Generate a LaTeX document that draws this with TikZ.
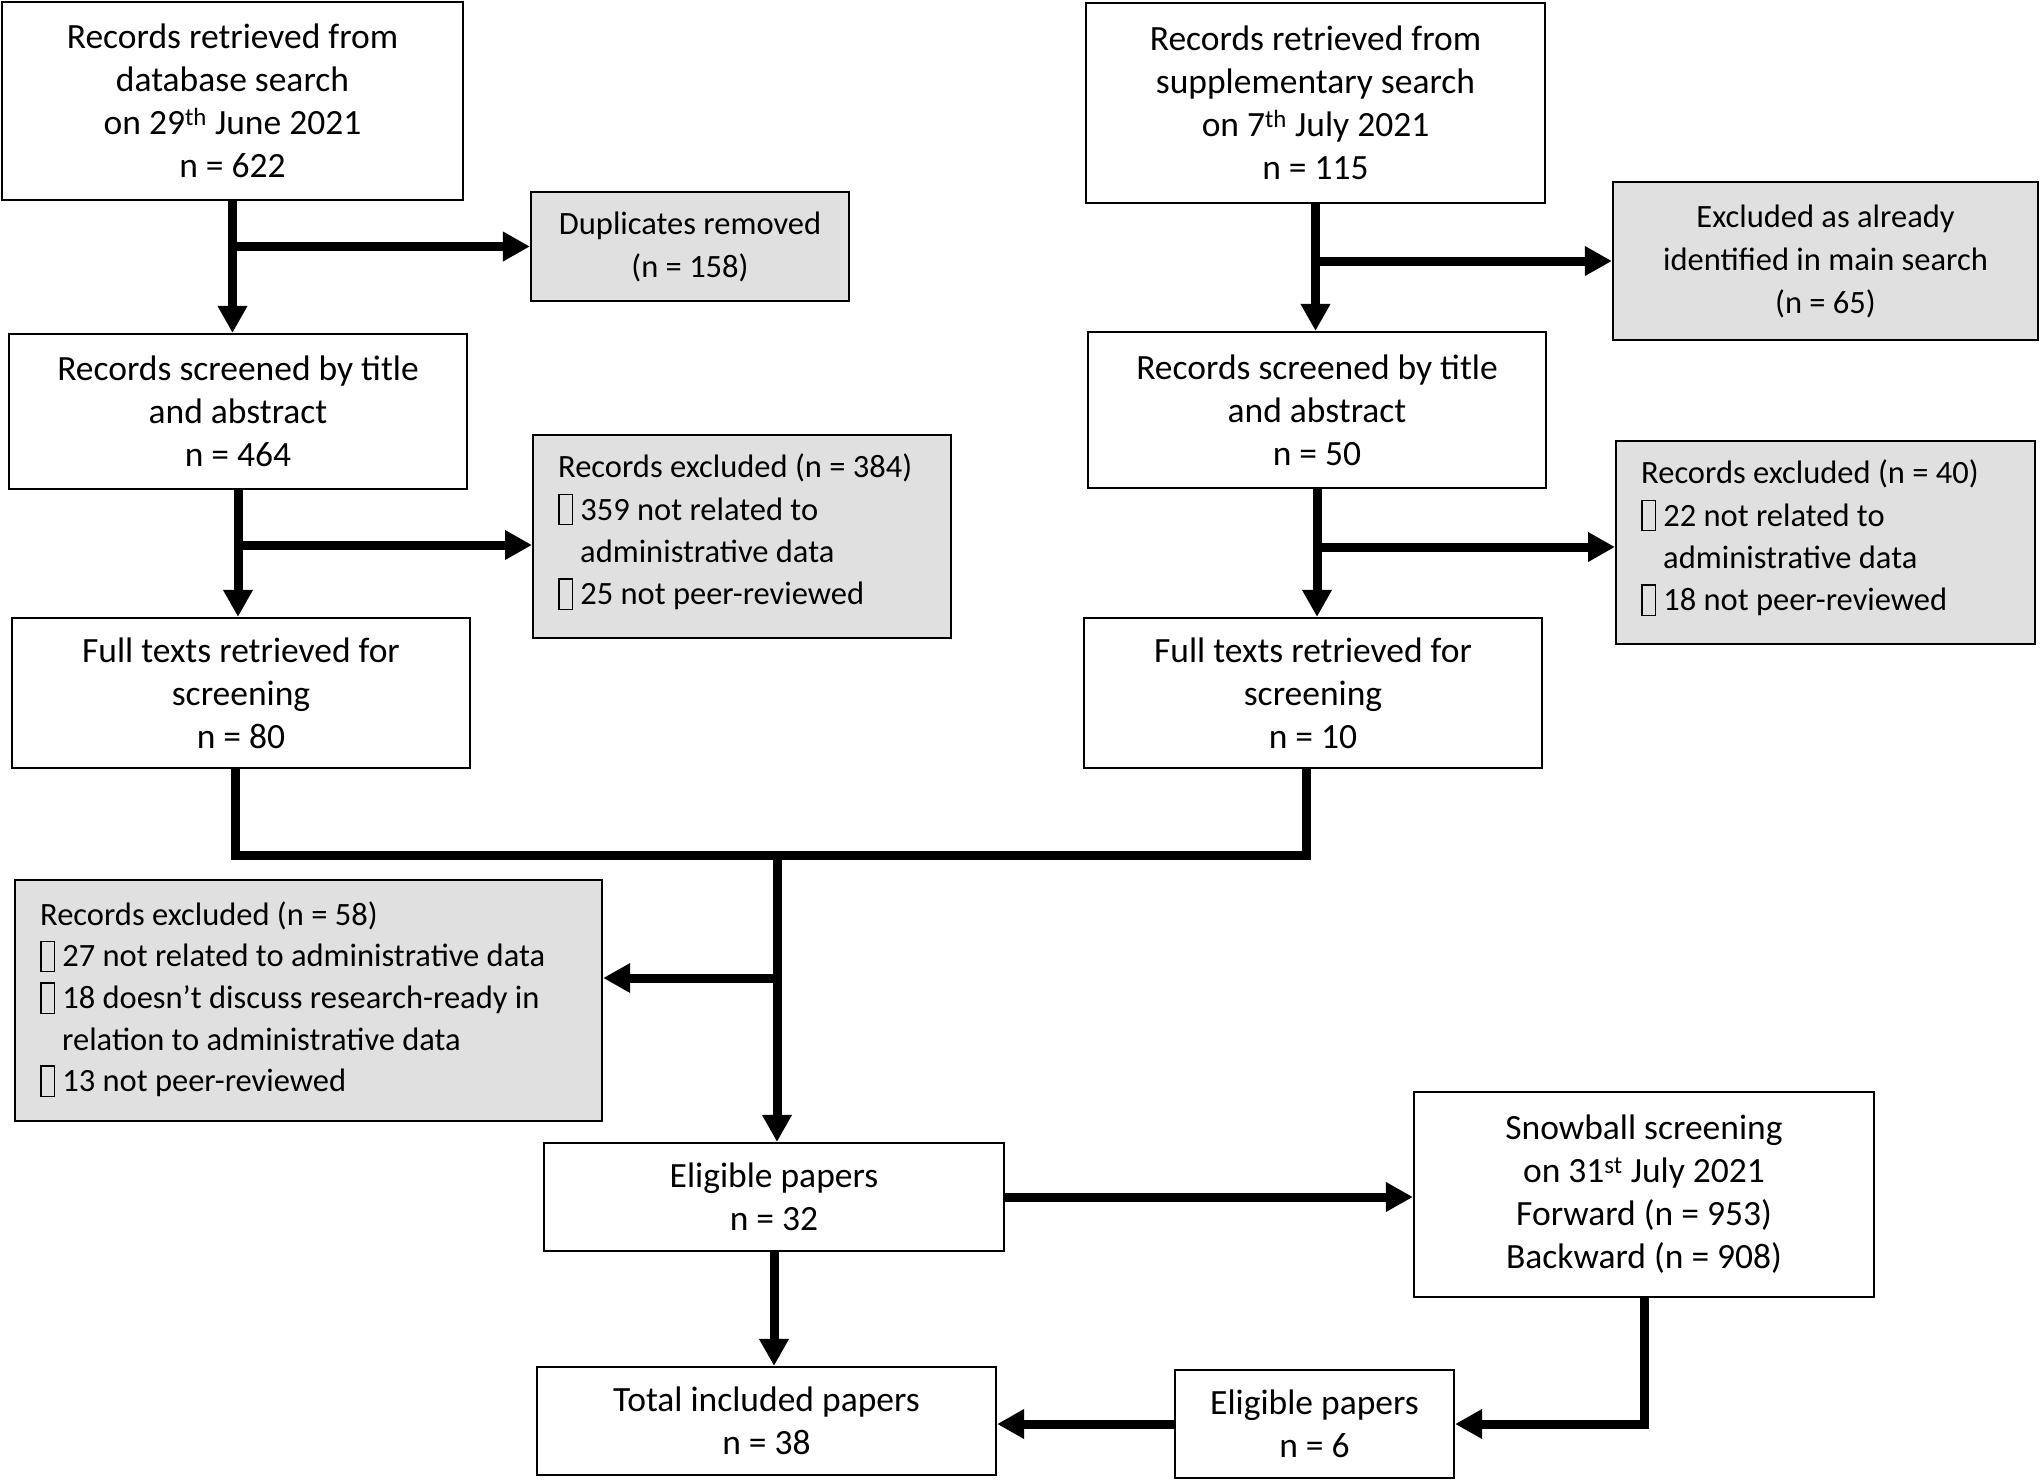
\documentclass[tikz,border=0pt]{standalone}
\usepackage{fontspec}
\setmainfont{Carlito}
\usetikzlibrary{arrows.meta}
\definecolor{exclgray}{RGB}{224,224,224}
\newcommand\gbox{\raisebox{-4pt}{\fboxsep=0pt\fboxrule=1.3pt\fbox{\rule{0pt}{29pt}\hspace{12.5pt}}}\hspace{7pt}}
\tikzset{
  flowbox/.style={draw=black, line width=2.2pt, fill=white, align=center, inner sep=0pt,
    font=\fontsize{35.5}{43}\selectfont},
  grayflow/.style={flowbox, fill=exclgray, font=\fontsize{32.5}{43}\selectfont},
  graybox/.style={draw=black, line width=2.2pt, fill=exclgray, inner sep=0pt, anchor=north west},
  listtext/.style={anchor=north west, inner sep=0pt, align=left,
    font=\fontsize{32.5}{42.3}\selectfont},
  flow/.style={line width=9pt, line join=miter, -{Triangle[length=27pt,width=28pt]}},
  thickline/.style={line width=9pt, line join=miter},
}
\begin{document}
\begin{tikzpicture}[x=1pt,y=-1pt]
\useasboundingbox (0,0) rectangle (2040,1480);
% left column
\node[flowbox, minimum width=461pt, minimum height=198pt] (A) at (232.5,101)
  {Records retrieved from\\database search\\on 29\textsuperscript{th} June 2021\\n = 622};
\node[grayflow, minimum width=318pt, minimum height=109pt] (Dup) at (690,246.5)
  {Duplicates removed\\(n = 158)};
\node[flowbox, minimum width=458pt, minimum height=155pt] (ScrL) at (238,411.5)
  {Records screened by title\\and abstract\\n = 464};
\node[graybox, minimum width=418pt, minimum height=203pt] (ExA) at (532,434) {};
\node[listtext] (ExAt) at (558,448) {\strut Records excluded (n = 384)\\
  \gbox 359 not related to\\
  \hspace*{22pt}administrative data\\
  \gbox 25 not peer-reviewed};
\node[flowbox, minimum width=458pt, minimum height=150pt] (FullL) at (241,693)
  {Full texts retrieved for\\screening\\n = 80};
% right column
\node[flowbox, minimum width=459pt, minimum height=200pt] (B) at (1315.5,103)
  {Records retrieved from\\supplementary search\\on 7\textsuperscript{th} July 2021\\n = 115};
\node[grayflow, minimum width=425pt, minimum height=158pt] (ExAl) at (1825.5,261)
  {Excluded as already\\identified in main search\\(n = 65)};
\node[flowbox, minimum width=458pt, minimum height=156pt] (ScrR) at (1317,410)
  {Records screened by title\\and abstract\\n = 50};
\node[graybox, minimum width=419pt, minimum height=203pt] (ExB) at (1615,440) {};
\node[listtext] (ExBt) at (1641,454) {\strut Records excluded (n = 40)\\
  \gbox 22 not related to\\
  \hspace*{22pt}administrative data\\
  \gbox 18 not peer-reviewed};
\node[flowbox, minimum width=458pt, minimum height=150pt] (FullR) at (1313,693)
  {Full texts retrieved for\\screening\\n = 10};
% lower part
\node[graybox, minimum width=587pt, minimum height=241pt] (ExC) at (14,879) {};
\node[listtext, font=\fontsize{32.5}{41.6}\selectfont] (ExCt) at (40,896) {\strut Records excluded (n = 58)\\
  \gbox 27 not related to administrative data\\
  \gbox 18 doesn’t discuss research-ready in\\
  \hspace*{22pt}relation to administrative data\\
  \gbox 13 not peer-reviewed};
\node[flowbox, minimum width=460pt, minimum height=108pt] (Elig) at (774,1197)
  {Eligible papers\\n = 32};
\node[flowbox, minimum width=460pt, minimum height=205pt] (Snow) at (1644,1194.5)
  {Snowball screening\\on 31\textsuperscript{st} July 2021\\Forward (n = 953)\\Backward (n = 908)};
\node[flowbox, minimum width=459pt, minimum height=108pt] (Total) at (766.5,1421)
  {Total included papers\\n = 38};
\node[flowbox, minimum width=279pt, minimum height=108pt] (E6) at (1314.5,1424)
  {Eligible papers\\n = 6};
% connectors
\coordinate (brA) at (A.south |- Dup.west);
\draw[flow] (A.south) -- (A.south |- ScrL.north);
\draw[flow] (brA) -- (Dup.west);
\coordinate (brL) at (238,545);
\draw[flow] (ScrL.south) -- (ScrL.south |- FullL.north);
\draw[flow] (brL) -- (brL -| ExA.west);
\coordinate (brB) at (B.south |- ExAl.west);
\draw[flow] (B.south) -- (B.south |- ScrR.north);
\draw[flow] (brB) -- (ExAl.west);
\coordinate (brR) at (1317,547);
\draw[flow] (ScrR.south) -- (ScrR.south |- FullR.north);
\draw[flow] (brR) -- (brR -| ExB.west);
\coordinate (mergeL) at (235,855);
\coordinate (mergeR) at (1306,855);
\draw[thickline] (FullL.south -| mergeL) -- (mergeL) -- (mergeR) -- (FullR.south -| mergeR);
\coordinate (mC) at (777,855);
\draw[flow] (mC) -- (mC |- Elig.north);
\coordinate (toC) at (777,978);
\draw[flow] (toC) -- (toC -| ExC.east);
\draw[flow] (Elig.east) -- (Elig.east -| Snow.west);
\draw[flow] (Elig.south) -- (Elig.south |- Total.north);
\draw[flow] (Snow.south) -- (Snow.south |- E6.east) -- (E6.east);
\draw[flow] (E6.west) -- (E6.west -| Total.east);
\end{tikzpicture}
\end{document}
